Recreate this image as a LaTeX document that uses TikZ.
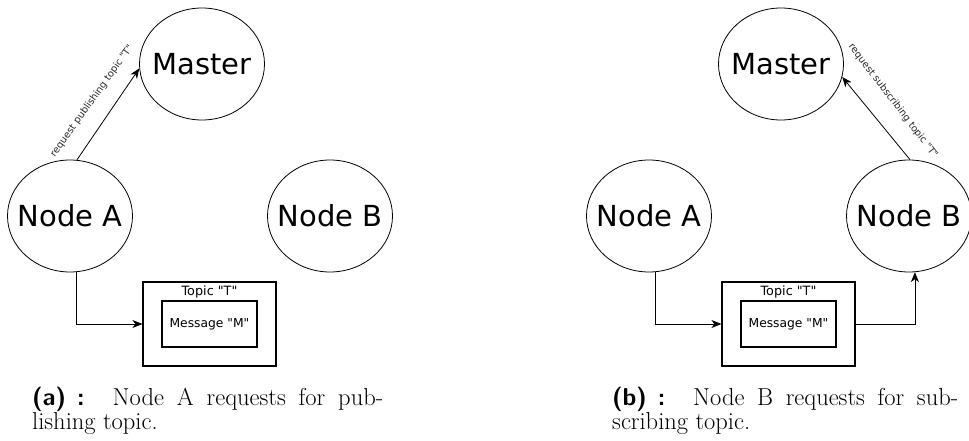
\documentclass[tikz,border=0pt]{standalone}
\usepackage{fontspec}
\newfontfamily\dv{DejaVu Sans}
\usetikzlibrary{shapes.geometric,arrows.meta}
\tikzset{
  ell/.style={draw=black, line width=0.8pt, ellipse, inner sep=0pt,
    minimum width=125pt, minimum height=112pt,
    label={[font=\dv\fontsize{29}{32}\selectfont, inner sep=0pt]center:#1}},
  outerbox/.style={draw=black, line width=1.2pt, minimum width=133pt, minimum height=84pt, inner sep=0pt},
  innerbox/.style={draw=black, line width=1.2pt, minimum width=95pt, minimum height=46pt, inner sep=0pt,
    font=\dv\fontsize{12.3}{14}\selectfont},
  smalltxt/.style={font=\dv\fontsize{12.8}{14}\selectfont, inner sep=0pt},
  lbl/.style={font=\dv\fontsize{9.7}{11}\selectfont, inner sep=0pt, text=black!85},
  conn/.style={draw=black, line width=0.8pt, -{Stealth[length=10pt,width=8pt,inset=3pt]}},
  capt/.style={anchor=base west, inner sep=0pt, font=\fontsize{24.5}{29}\selectfont}
}
\begin{document}
\begin{tikzpicture}[x=1pt,y=-1pt]
\useasboundingbox (0,0) rectangle (969,441);
% ---- panel (a)
\node[ell=Master] (masterL) at (202,64) {};
\node[ell={Node A}] (nodeAL) at (70,216) {};
\node[ell={Node B}] (nodeBL) at (330,216) {};
\node[outerbox] (topicL) at (209.5,324) {};
\node[innerbox] (msgL) at (209.5,324) {Message "M"};
\node[smalltxt] (topicLt) at (209.5,291.5) {Topic "T"};
\draw[conn] (nodeAL.83) -- (masterL.184);
\node[lbl, rotate=54.5] (lblL) at (92,101) {request publishing topic "T"};
\draw[conn] (nodeAL.276) |- (topicL.west);
\node[capt] (capA1) at (32,405) {\makebox[351pt][s]{\textsf{\bfseries (a)\hspace{0.45em}:}\hspace{0.3em} Node A requests for pub-}};
\node[capt] (capA2) at (32,429) {lishing topic.};
% ---- panel (b)
\node[ell=Master] (masterR) at (781,64) {};
\node[ell={Node A}] (nodeAR) at (649,216) {};
\node[ell={Node B}] (nodeBR) at (909,216) {};
\node[outerbox] (topicR) at (788.5,324) {};
\node[innerbox] (msgR) at (788.5,324) {Message "M"};
\node[smalltxt] (topicRt) at (788.5,291.5) {Topic "T"};
\draw[conn] (nodeBR.89) -- (masterR.-12);
\node[lbl, rotate=-52.7] (lblR) at (893,101) {request subscribing topic "T"};
\draw[conn] (nodeAR.276) |- (topicR.west);
\draw[conn] (topicR.east) -| (nodeBR.276);
\node[capt] (capB1) at (612,405) {\makebox[346pt][s]{\textsf{\bfseries (b)\hspace{0.45em}:}\hspace{0.3em} Node B requests for sub-}};
\node[capt] (capB2) at (612,429) {scribing topic.};
\end{tikzpicture}
\end{document}
